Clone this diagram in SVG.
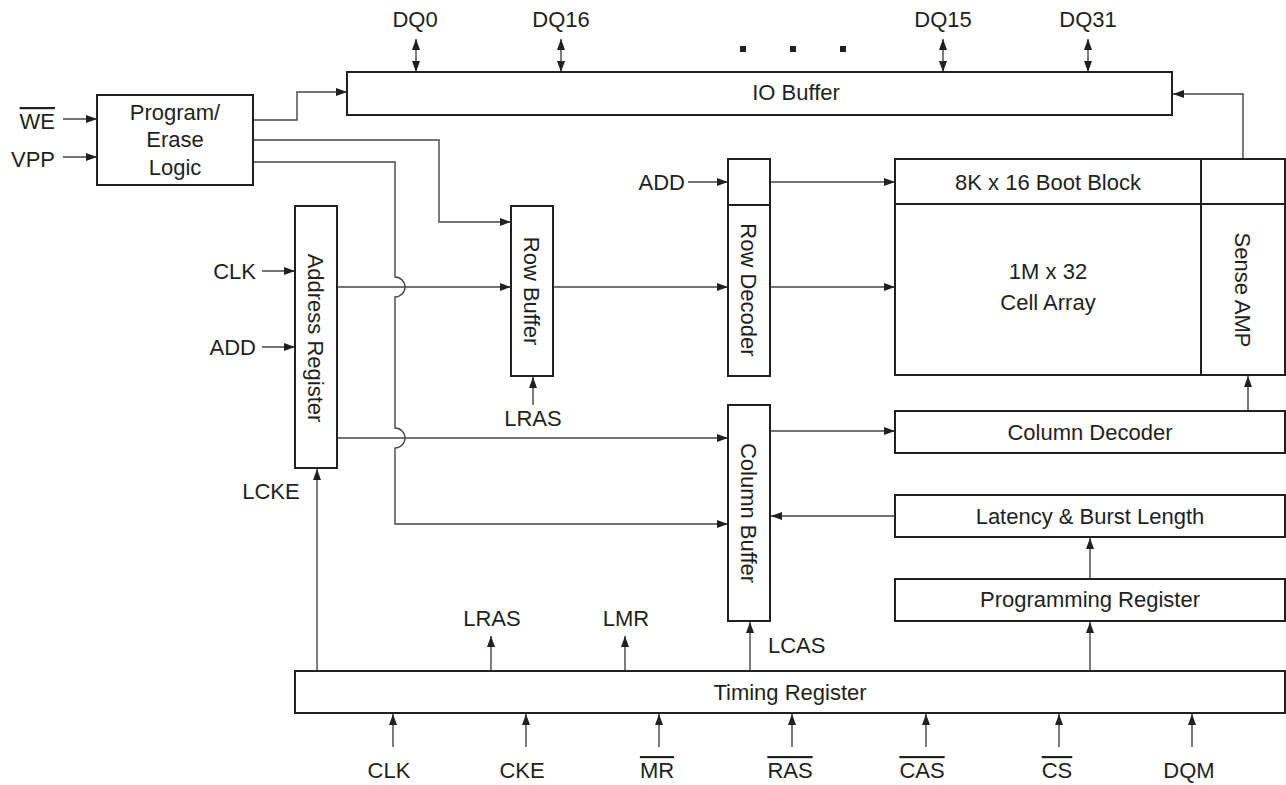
<svg xmlns="http://www.w3.org/2000/svg" width="1286" height="785" viewBox="0 0 1286 785">
<style>
text{font-family:"Liberation Sans",Arial,sans-serif;font-size:22px;fill:#231f20}
.m{text-anchor:middle}
.e{text-anchor:end}
.ol{text-decoration:overline}
.box{fill:#fff;stroke:#231f20;stroke-width:2}
.ln{fill:none;stroke:#444;stroke-width:1.4}
.a{marker-end:url(#ah)}
.d{marker-end:url(#ah);marker-start:url(#ah)}
</style>
<defs>
<marker id="ah" markerUnits="userSpaceOnUse" markerWidth="12" markerHeight="8" refX="11" refY="4" orient="auto-start-reverse" viewBox="0 0 12 8">
<path d="M0,0 L11,4 L0,8 z" fill="#231f20"/>
</marker>
</defs>
<rect width="1286" height="785" fill="#fff"/>

<g id="connectors">
<!-- DQ double arrows -->
<line class="ln d" x1="416" y1="39" x2="416" y2="72"/>
<line class="ln d" x1="561" y1="39" x2="561" y2="72"/>
<line class="ln d" x1="943" y1="39" x2="943" y2="72"/>
<line class="ln d" x1="1088" y1="39" x2="1088" y2="72"/>
<!-- inputs to program/erase -->
<line class="ln a" x1="63" y1="119" x2="97" y2="119"/>
<line class="ln a" x1="63" y1="157" x2="97" y2="157"/>
<!-- program/erase outputs -->
<polyline class="ln a" points="253,120 297,120 297,92 347,92"/>
<polyline class="ln a" points="253,140 439,140 439,222 511,222"/>
<path class="ln a" d="M253,162 H395 V277 A10,10 0 0 1 395,297 V428 A10,10 0 0 1 395,448 V524 H728"/>
<!-- address register inputs -->
<line class="ln a" x1="262" y1="271" x2="295" y2="271"/>
<line class="ln a" x1="262" y1="347" x2="295" y2="347"/>
<!-- address register outputs -->
<line class="ln a" x1="337" y1="287" x2="511" y2="287"/>
<line class="ln a" x1="337" y1="438" x2="728" y2="438"/>
<!-- row buffer to row decoder -->
<line class="ln a" x1="553" y1="287" x2="728" y2="287"/>
<line class="ln a" x1="533" y1="405" x2="533" y2="377"/>
<!-- row decoder -->
<line class="ln a" x1="688" y1="182" x2="728" y2="182"/>
<line class="ln a" x1="770" y1="182" x2="895" y2="182"/>
<line class="ln a" x1="770" y1="287" x2="895" y2="287"/>
<!-- column buffer -->
<line class="ln a" x1="770" y1="431" x2="895" y2="431"/>
<line class="ln a" x1="895" y1="516" x2="771" y2="516"/>
<!-- sense amp / io buffer -->
<polyline class="ln a" points="1243,159 1243,94 1173,94"/>
<line class="ln a" x1="1248" y1="411" x2="1248" y2="376"/>
<!-- latency / programming -->
<line class="ln a" x1="1090" y1="579" x2="1090" y2="538"/>
<line class="ln a" x1="1090" y1="671" x2="1090" y2="622"/>
<!-- timing outputs -->
<line class="ln a" x1="317" y1="671" x2="317" y2="469"/>
<line class="ln a" x1="491" y1="671" x2="491" y2="636"/>
<line class="ln a" x1="625" y1="671" x2="625" y2="636"/>
<line class="ln a" x1="750" y1="671" x2="750" y2="622"/>
<!-- timing inputs -->
<line class="ln a" x1="393" y1="747" x2="393" y2="714"/>
<line class="ln a" x1="526" y1="747" x2="526" y2="714"/>
<line class="ln a" x1="659" y1="747" x2="659" y2="714"/>
<line class="ln a" x1="792" y1="747" x2="792" y2="714"/>
<line class="ln a" x1="926" y1="747" x2="926" y2="714"/>
<line class="ln a" x1="1059" y1="747" x2="1059" y2="714"/>
<line class="ln a" x1="1192" y1="747" x2="1192" y2="714"/>
</g>

<g id="io-buffer">
<rect class="box" x="347" y="72" width="825" height="43"/>
<text class="m" x="796" y="100">IO Buffer</text>
</g>

<g id="dq-labels">
<text class="m" x="415" y="27">DQ0</text>
<text class="m" x="561" y="27">DQ16</text>
<text class="m" x="943" y="27">DQ15</text>
<text class="m" x="1088" y="27">DQ31</text>
<rect x="740" y="46" width="6" height="6" fill="#231f20"/>
<rect x="790" y="46" width="6" height="6" fill="#231f20"/>
<rect x="840" y="46" width="6" height="6" fill="#231f20"/>
</g>

<g id="program-erase-logic">
<rect class="box" x="97" y="95" width="156" height="90"/>
<text class="m" x="175" y="120">Program/</text>
<text class="m" x="175" y="147">Erase</text>
<text class="m" x="175" y="175">Logic</text>
</g>

<g id="pe-inputs">
<text class="e ol" x="55" y="129">WE</text>
<text class="e" x="55" y="167">VPP</text>
</g>

<g id="address-register">
<rect class="box" x="295" y="206" width="42" height="262"/>
<text class="m" transform="translate(316,338) rotate(90)" dy="8">Address Register</text>
<text class="e" x="256" y="279">CLK</text>
<text class="e" x="256" y="355">ADD</text>
<text class="m" x="271" y="499">LCKE</text>
</g>

<g id="row-buffer">
<rect class="box" x="511" y="206" width="42" height="170"/>
<text class="m" transform="translate(532,291) rotate(90)" dy="8">Row Buffer</text>
<text class="m" x="533" y="426">LRAS</text>
</g>

<g id="row-decoder">
<rect class="box" x="728" y="159" width="42" height="217"/>
<line x1="728" y1="205" x2="770" y2="205" stroke="#231f20" stroke-width="2"/>
<text class="m" transform="translate(749,290) rotate(90)" dy="8">Row Decoder</text>
<text class="e" x="685" y="190">ADD</text>
</g>

<g id="column-buffer">
<rect class="box" x="728" y="405" width="42" height="216"/>
<text class="m" transform="translate(749,513) rotate(90)" dy="8">Column Buffer</text>
<text x="768" y="653">LCAS</text>
</g>

<g id="cell-array">
<rect class="box" x="895" y="159" width="390" height="216"/>
<line x1="895" y1="204" x2="1285" y2="204" stroke="#231f20" stroke-width="2"/>
<line x1="1201" y1="159" x2="1201" y2="375" stroke="#231f20" stroke-width="2"/>
<text class="m" x="1048" y="190">8K x 16 Boot Block</text>
<text class="m" x="1048" y="279">1M x 32</text>
<text class="m" x="1048" y="310">Cell Array</text>
<text class="m" transform="translate(1243,290) rotate(90)" dy="8">Sense AMP</text>
</g>

<g id="column-decoder">
<rect class="box" x="895" y="411" width="390" height="42"/>
<text class="m" x="1090" y="440">Column Decoder</text>
</g>

<g id="latency-burst-length">
<rect class="box" x="895" y="495" width="390" height="42"/>
<text class="m" x="1090" y="524">Latency &amp; Burst Length</text>
</g>

<g id="programming-register">
<rect class="box" x="895" y="579" width="390" height="42"/>
<text class="m" x="1090" y="607">Programming Register</text>
</g>

<g id="timing-register">
<rect class="box" x="295" y="671" width="990" height="42"/>
<text class="m" x="790" y="700">Timing Register</text>
<text class="m" x="492" y="626">LRAS</text>
<text class="m" x="626" y="626">LMR</text>
</g>

<g id="timing-inputs">
<text class="m" x="389" y="778">CLK</text>
<text class="m" x="522" y="778">CKE</text>
<text class="m ol" x="657" y="778">MR</text>
<text class="m ol" x="790" y="778">RAS</text>
<text class="m ol" x="922" y="778">CAS</text>
<text class="m ol" x="1057" y="778">CS</text>
<text class="m" x="1189" y="778">DQM</text>
</g>
</svg>
